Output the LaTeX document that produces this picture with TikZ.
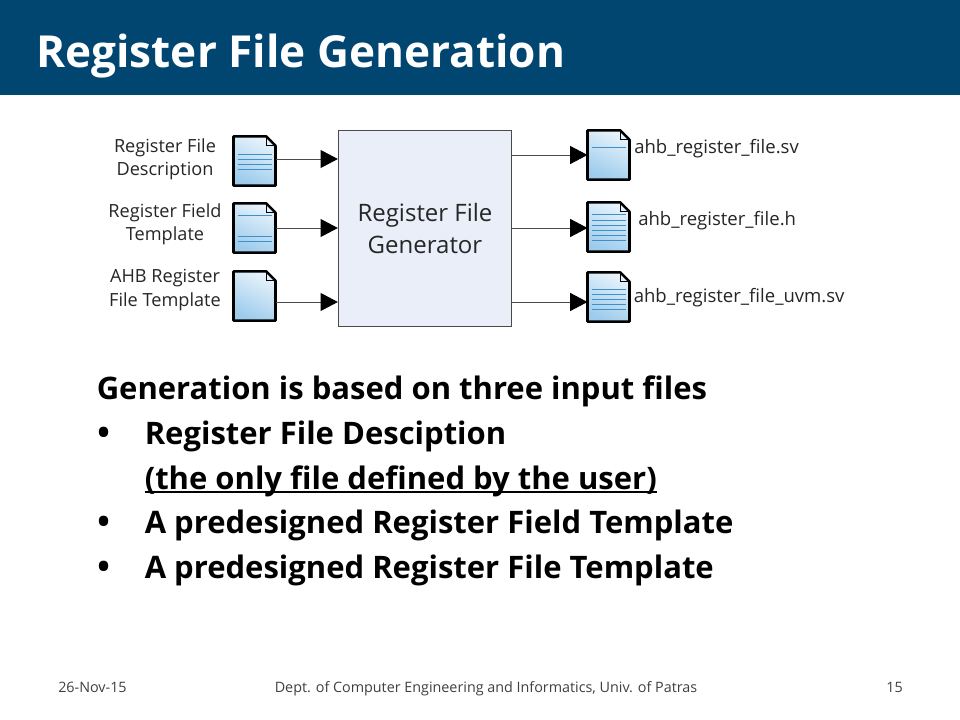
\documentclass[tikz,border=0pt]{standalone}
\usepackage{fontspec}
\setmainfont{Open Sans}
\usetikzlibrary{arrows.meta}
\definecolor{band}{HTML}{004671}
\definecolor{boxfill}{HTML}{E9EEF8}
\definecolor{boxline}{HTML}{4A4A4A}
\definecolor{docline}{HTML}{3F8FC8}
\definecolor{doclight}{HTML}{E8F3FB}
\definecolor{docdark}{HTML}{9CCBEC}
\definecolor{foot}{HTML}{404040}
\definecolor{lab}{HTML}{262626}
\tikzset{
  docnode/.style={minimum width=31.5pt,minimum height=37pt,inner sep=0pt,outer sep=0pt},
  docshape/.style={draw=black,line width=1.9pt,line join=round,top color=doclight,bottom color=docdark,shading angle=-25},
  conn/.style={draw=boxline,line width=0.7pt,-{Triangle[length=13pt,width=13.5pt,fill=black,color=black]}},
  lbl/.style={font=\fontsize{13.6pt}{17.6pt}\selectfont,align=center,text=lab,inner sep=0pt},
  fname/.style={font=\fontsize{13.9pt}{15pt}\selectfont,anchor=west,text=lab,inner sep=0pt},
  body/.style={font=\fontsize{23.25pt}{26pt}\selectfont\bfseries,anchor=base west,inner sep=0pt,text=black},
  bullet/.style={font=\fontsize{25pt}{26pt}\selectfont\bfseries,anchor=base west,inner sep=0pt,text=black},
  foottext/.style={font=\fontsize{10.75pt}{12pt}\selectfont,text=foot,inner sep=0pt}
}
\newcommand{\docicon}[4]{%
  \node[docnode] (#1) at (#2*0.75pt,-#3*0.75pt) {};
  \path[docshape] (#1.north west) -- ([xshift=-7pt]#1.north east) -- ([yshift=-7pt]#1.north east) -- (#1.south east) -- (#1.south west) -- cycle;
  \draw[line width=0.9pt,draw=black] ([xshift=-7pt]#1.north east) -- ([xshift=-7pt,yshift=-7pt]#1.north east) -- ([yshift=-7pt]#1.north east);
  \foreach \yy in {#4} {
    \draw[docline,line width=0.5pt] ([xshift=3pt,yshift=-\yy*0.75pt]#1.north west) -- ([xshift=-3pt,yshift=-\yy*0.75pt]#1.north east);
  }
}
\begin{document}
\begin{tikzpicture}[x=0.75pt,y=-0.75pt]
\useasboundingbox (0,0) rectangle (960,720);
\fill[white] (0,0) rectangle (960,720);
\fill[band] (0,0) rectangle (960,95);
\node[anchor=base west,inner sep=0pt,text=white,font=\fontsize{33.1pt}{40pt}\selectfont\bfseries] (title) at (36,68) {Register File Generation};
\node[draw=boxline,fill=boxfill,line width=0.7pt,minimum width=130pt,minimum height=147pt,inner sep=0pt,align=center,font=\fontsize{18pt}{24.5pt}\selectfont,text=lab] (gen) at (425,228.5) {Register File\\Generator};
\docicon{i1}{254.5}{161}{18,23,28,33}
\docicon{i2}{254.5}{228}{12,33,38}
\docicon{i3}{254.5}{296}{}
\docicon{o1}{608.5}{155}{17}
\docicon{o2}{608.5}{227}{12,18,23,28,33,38}
\docicon{o3}{608.5}{297}{17,22,27,32,37}
\node[lbl] (l1) at (165,159.5) {Register File\\Description};
\node[lbl] (l2) at (165,224.5) {Register Field\\Template};
\node[lbl] (l3) at (165,290) {AHB Register\\File Template};
\node[fname] (f1) at (634,148.5) {ahb\_register\_file.sv};
\node[fname] (f2) at (638,221) {ahb\_register\_file.h};
\node[fname] (f3) at (633.5,297.5) {ahb\_register\_file\_uvm.sv};
\draw[conn] ([yshift=1.5pt]i1.east) -- ([yshift=1.5pt]i1.east -| gen.west);
\draw[conn] (i2.east) -- (i2.east -| gen.west);
\draw[conn] ([yshift=-4.5pt]i3.east) -- ([yshift=-4.5pt]i3.east -| gen.west);
\draw[conn] (o1.west -| gen.east) -- (o1.west);
\draw[conn] ([yshift=-0.75pt]o2.west -| gen.east) -- ([yshift=-0.75pt]o2.west);
\draw[conn] ([yshift=-3.75pt]o3.west -| gen.east) -- ([yshift=-3.75pt]o3.west);
\node[body] (h) at (96.5,399) {Generation is based on three input files};
\node[bullet] (b1d) at (97,444) {•};
\node[body] (b1) at (144.5,444) {Register File Desciption};
\node[body] (b1u) at (144.5,489) {(the only file defined by the user)};
\draw[line width=1.5pt,black] ([yshift=-2.6pt]b1u.base west) -- ([yshift=-2.6pt]b1u.base east);
\node[bullet] (b2d) at (97,533) {•};
\node[body] (b2) at (144.5,533) {A predesigned Register Field Template};
\node[bullet] (b3d) at (97,578) {•};
\node[body] (b3) at (144.5,578) {A predesigned Register File Template};
\node[foottext,anchor=base west] (fd) at (58,692) {26-Nov-15};
\node[foottext,anchor=base] (fc) at (486,692) {Dept. of Computer Engineering and Informatics, Univ. of Patras};
\node[foottext,anchor=base east] (fn) at (903,692) {15};
\end{tikzpicture}
\end{document}
